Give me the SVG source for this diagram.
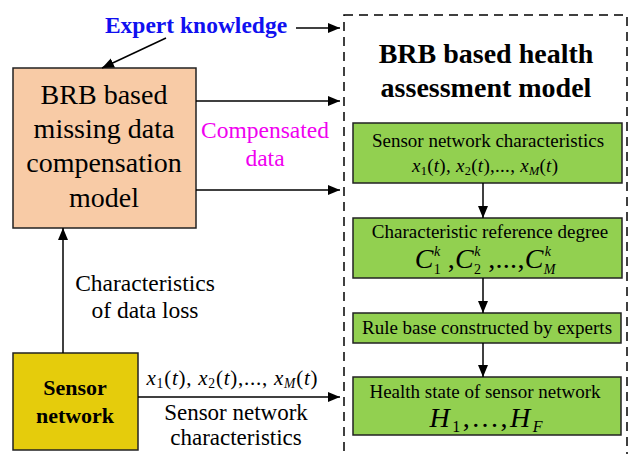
<svg xmlns="http://www.w3.org/2000/svg" width="630" height="454" viewBox="0 0 630 454">
<defs>
<marker id="ah" viewBox="0 0 12 10" refX="12" refY="5" markerWidth="12" markerHeight="10" markerUnits="userSpaceOnUse" orient="auto">
<path d="M0,0 L12,5 L0,10 Z" fill="#000"/>
</marker>
</defs>
<style>
text{font-family:"Liberation Serif","Times New Roman",serif;fill:#000}
.box{stroke:#222;stroke-width:1.5}
.green{fill:#92D050}
.ln{stroke:#000;stroke-width:1.5;fill:none;marker-end:url(#ah)}
.i{font-style:italic}
.s{font-size:65%}
</style>
<rect width="630" height="454" fill="#fff"/>
<g id="assessment-frame">
<rect x="344" y="15" width="283" height="460" fill="none" stroke="#000" stroke-width="1.5" stroke-dasharray="9,6"/>
<text x="486" y="63" font-size="28" font-weight="bold" text-anchor="middle">BRB based health</text>
<text x="486" y="97" font-size="28" font-weight="bold" text-anchor="middle">assessment model</text>
</g>
<g id="expert-knowledge">
<text x="196" y="33" font-size="23.5" font-weight="bold" text-anchor="middle" style="fill:#1010F0">Expert knowledge</text>
</g>
<g id="compensation-model">
<rect class="box" x="13" y="68" width="183" height="160" fill="#F8CBA6"/>
<text x="104" y="104" font-size="28" text-anchor="middle">BRB based</text>
<text x="104" y="138" font-size="28" text-anchor="middle">missing data</text>
<text x="104" y="172" font-size="28" text-anchor="middle">compensation</text>
<text x="104" y="207" font-size="28" text-anchor="middle">model</text>
</g>
<g id="sensor-network">
<rect class="box" x="13" y="353" width="125" height="97" fill="#E5CC0C"/>
<text x="75" y="395" font-size="22" font-weight="bold" text-anchor="middle">Sensor</text>
<text x="75" y="423" font-size="22" font-weight="bold" text-anchor="middle">network</text>
</g>
<g id="sensor-characteristics">
<rect class="box green" x="353" y="123" width="269" height="60"/>
<text x="488" y="147" font-size="19" text-anchor="middle">Sensor network characteristics</text>
<text x="485" y="172" font-size="19" text-anchor="middle" textLength="146" lengthAdjust="spacing"><tspan class="i">x</tspan><tspan class="s" dy="3">1</tspan><tspan dy="-3">(</tspan><tspan class="i">t</tspan>), <tspan class="i">x</tspan><tspan class="s" dy="3">2</tspan><tspan dy="-3">(</tspan><tspan class="i">t</tspan>),..., <tspan class="i">x</tspan><tspan class="s i" dy="3">M</tspan><tspan dy="-3">(</tspan><tspan class="i">t</tspan>)</text>
</g>
<g id="reference-degree">
<rect class="box green" x="353" y="218" width="269" height="60"/>
<text x="490" y="238" font-size="19" text-anchor="middle">Characteristic reference degree</text>
<text x="485" y="268" font-size="28" text-anchor="middle" textLength="141" lengthAdjust="spacing"><tspan class="i">C</tspan><tspan font-size="14" dy="6">1</tspan><tspan font-size="14" class="i" dx="-7" dy="-18">k</tspan><tspan dy="12"> ,</tspan><tspan class="i">C</tspan><tspan font-size="14" dy="6">2</tspan><tspan font-size="14" class="i" dx="-7" dy="-18">k</tspan><tspan dy="12"> ,...,</tspan><tspan class="i">C</tspan><tspan font-size="14" class="i" dy="6">M</tspan><tspan font-size="14" class="i" dx="-11" dy="-18">k</tspan></text>
</g>
<g id="rule-base">
<rect class="box green" x="353" y="313" width="268" height="30"/>
<text x="487" y="334" font-size="19" text-anchor="middle">Rule base constructed by experts</text>
</g>
<g id="health-state">
<rect class="box green" x="353" y="377" width="268" height="58"/>
<text x="485" y="398" font-size="19" text-anchor="middle">Health state of sensor network</text>
<text x="486" y="427" font-size="28" text-anchor="middle" textLength="113" lengthAdjust="spacing"><tspan class="i">H</tspan><tspan font-size="16" dy="5">1</tspan><tspan dy="-5">,...,</tspan><tspan class="i">H</tspan><tspan font-size="16" class="i" dy="5">F</tspan></text>
</g>
<g id="labels">
<text x="265" y="138" font-size="23.5" text-anchor="middle" style="fill:#F000F0">Compensated</text>
<text x="265" y="166" font-size="23.5" text-anchor="middle" style="fill:#F000F0">data</text>
<text x="145" y="291" font-size="23.5" text-anchor="middle">Characteristics</text>
<text x="145" y="318" font-size="23.5" text-anchor="middle">of data loss</text>
<text x="232" y="385" font-size="21" text-anchor="middle" textLength="171" lengthAdjust="spacing"><tspan class="i">x</tspan><tspan class="s" dy="3">1</tspan><tspan dy="-3">(</tspan><tspan class="i">t</tspan>), <tspan class="i">x</tspan><tspan class="s" dy="3">2</tspan><tspan dy="-3">(</tspan><tspan class="i">t</tspan>),..., <tspan class="i">x</tspan><tspan class="s i" dy="3">M</tspan><tspan dy="-3">(</tspan><tspan class="i">t</tspan>)</text>
<text x="236" y="420" font-size="23" text-anchor="middle">Sensor network</text>
<text x="236" y="445" font-size="23" text-anchor="middle">characteristics</text>
</g>
<g id="connectors">
<line class="ln" x1="296" y1="28" x2="340" y2="28"/>
<line class="ln" x1="166" y1="38" x2="102" y2="68"/>
<line class="ln" x1="196" y1="101" x2="340" y2="101"/>
<line class="ln" x1="196" y1="190" x2="340" y2="190"/>
<line class="ln" x1="63" y1="353" x2="63" y2="228"/>
<line class="ln" x1="138" y1="397" x2="340" y2="397"/>
<line class="ln" x1="483" y1="183" x2="483" y2="218"/>
<line class="ln" x1="483" y1="278" x2="483" y2="313"/>
<line class="ln" x1="483" y1="343" x2="483" y2="377"/>
</g>
</svg>
